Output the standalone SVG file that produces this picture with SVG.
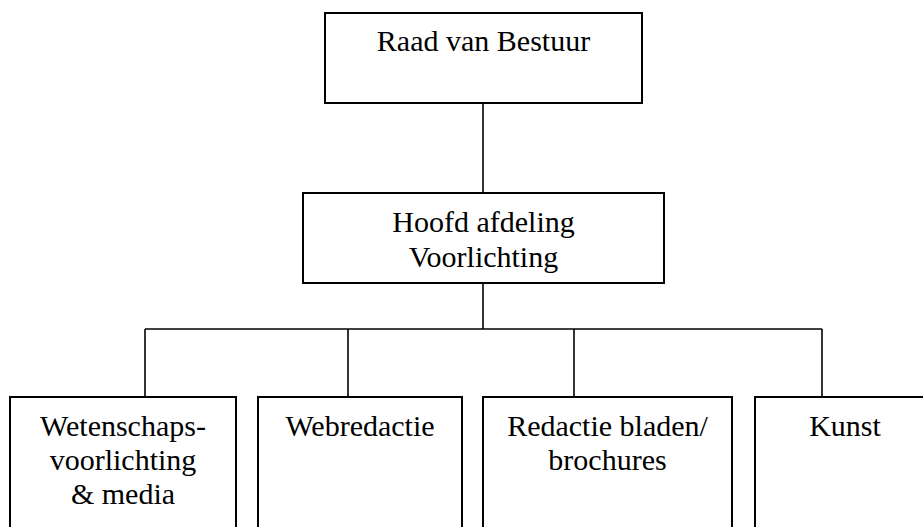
<svg xmlns="http://www.w3.org/2000/svg" width="923" height="527" viewBox="0 0 923 527">
  <style>
    .box { fill: #ffffff; stroke: #000000; stroke-width: 2; }
    .line { fill: none; stroke: #000000; stroke-width: 1.6; }
    .label { font-family: "Liberation Serif", "Times New Roman", serif; font-size: 30px; fill: #000000; text-anchor: middle; }
  </style>
  <rect width="923" height="527" fill="#ffffff"/>

  <!-- Connectors -->
  <g id="connectors">
    <line class="line" x1="483" y1="103" x2="483" y2="193"/>
    <line class="line" x1="483" y1="283" x2="483" y2="329"/>
    <line class="line" x1="145" y1="329" x2="822" y2="329"/>
    <line class="line" x1="145" y1="329" x2="145" y2="397"/>
    <line class="line" x1="348" y1="329" x2="348" y2="397"/>
    <line class="line" x1="574" y1="329" x2="574" y2="397"/>
    <line class="line" x1="822" y1="329" x2="822" y2="397"/>
  </g>

  <!-- Board -->
  <g id="raad-van-bestuur">
    <rect class="box" x="325" y="13" width="317" height="90"/>
    <text class="label" x="483.5" y="51">Raad van Bestuur</text>
  </g>

  <!-- Head of department -->
  <g id="hoofd-afdeling">
    <rect class="box" x="303" y="193" width="361" height="90"/>
    <text class="label" x="483.5" y="232">Hoofd afdeling</text>
    <text class="label" x="483.5" y="266.5">Voorlichting</text>
  </g>

  <!-- Sections (boxes run past the lower edge) -->
  <g id="wetenschapsvoorlichting">
    <rect class="box" x="10" y="397" width="226" height="160"/>
    <text class="label" x="123" y="436">Wetenschaps-</text>
    <text class="label" x="123" y="470">voorlichting</text>
    <text class="label" x="123" y="504">&amp; media</text>
  </g>

  <g id="webredactie">
    <rect class="box" x="258" y="397" width="204" height="160"/>
    <text class="label" x="360" y="436">Webredactie</text>
  </g>

  <g id="redactie-bladen">
    <rect class="box" x="483" y="397" width="249" height="160"/>
    <text class="label" x="607.5" y="436">Redactie bladen/</text>
    <text class="label" x="607.5" y="470">brochures</text>
  </g>

  <g id="kunst">
    <rect class="box" x="755" y="397" width="180" height="160"/>
    <text class="label" x="845" y="436">Kunst</text>
  </g>
</svg>
